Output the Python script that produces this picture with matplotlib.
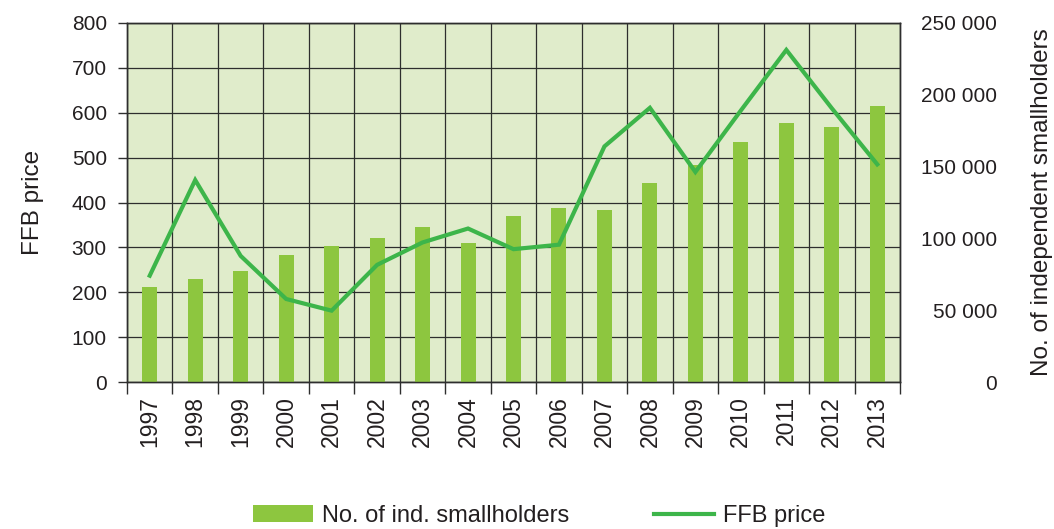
import matplotlib
matplotlib.use("Agg")
import matplotlib.pyplot as plt
from matplotlib.ticker import FuncFormatter
from matplotlib.patches import Patch
from matplotlib.lines import Line2D
import numpy as np

plt.rcParams['font.family'] = ['Liberation Sans', 'DejaVu Sans']

years = ['1997', '1998', '1999', '2000', '2001', '2002', '2003', '2004', '2005',
         '2006', '2007', '2008', '2009', '2010', '2011', '2012', '2013']
smallholders = [66200, 71800, 77400, 88600, 94800, 100400, 108100, 96900, 115800,
                121400, 120000, 138900, 151000, 166800, 180100, 177300, 192000]
ffb_price = [237, 450, 281, 185, 159, 261, 311, 342, 296,
             306, 525, 611, 468, 605, 740, 610, 485]

left_ticks = [0, 100, 200, 300, 400, 500, 600, 700, 800]
right_ticks = [0, 50000, 100000, 150000, 200000, 250000]

bg = '#E0ECCB'
bar_c = '#8DC63F'
line_c = '#3DB54A'
grid_c = '#2E2E2E'
txt_c = '#231F20'
fs = 15

fig = plt.figure(figsize=(10.54, 5.29), dpi=100)
ax = fig.add_axes([127/1054, 1-382/529, (900-127)/1054, (382-23)/529])
ax.set_facecolor(bg)
x = np.arange(len(years))

ax.set_xlim(-0.5, len(years) - 0.5)
ax.set_ylim(0, 800)
ax.set_yticks(left_ticks)
ax.set_xticks(x)
ax.set_xticklabels(years, rotation=90)
ax.set_xticks(np.arange(len(years) + 1) - 0.5, minor=True)
ax.tick_params(axis='x', which='major', length=0, pad=10, labelsize=16.5, labelcolor=txt_c)
ax.tick_params(axis='x', which='minor', length=8.6, width=1, color=grid_c, direction='out')
ax.tick_params(axis='y', length=6.5, width=1, color=grid_c, pad=8, labelsize=fs, labelcolor=txt_c)
ax.grid(True, axis='y', which='major', color=grid_c, lw=0.9)
ax.grid(True, axis='x', which='minor', color=grid_c, lw=0.9)
ax.grid(False, axis='x', which='major')
ax.set_axisbelow(True)
for s in ax.spines.values():
    s.set_color(grid_c)
    s.set_linewidth(1)
ax.set_ylabel('FFB price', fontsize=17.5, color=txt_c, labelpad=20)

# bars on right scale
axb = ax.twinx()
axb.bar(x, smallholders, width=0.33, color=bar_c, zorder=2)
axb.set_ylim(0, 250000)
axb.set_yticks(right_ticks)
axb.yaxis.set_major_formatter(FuncFormatter(lambda v, p: f"{int(v):,}".replace(',', ' ')))
axb.tick_params(axis='y', length=0, pad=70, labelsize=fs, labelcolor=txt_c)
for lab in axb.get_yticklabels():
    lab.set_horizontalalignment('right')
for s in axb.spines.values():
    s.set_color(grid_c)
    s.set_linewidth(1)
axb.set_ylabel('No. of independent smallholders', fontsize=17.5, color=txt_c, labelpad=24)

# line on left scale, drawn on top
axl = ax.twinx()
axl.plot(x, ffb_price, color=line_c, lw=3, solid_joinstyle='miter', zorder=3)
axl.set_ylim(0, 800)
axl.set_yticks([])
for s in axl.spines.values():
    s.set_visible(False)

handles = [Patch(facecolor=bar_c, edgecolor='none'), Line2D([0], [0], color=line_c, lw=3)]
fig.legend(handles, ['No. of ind. smallholders', 'FFB price'], loc='center',
           bbox_to_anchor=(539/1054, 1-516/529), ncol=2, frameon=False,
           fontsize=17, handlelength=2.55, handleheight=0.7, handletextpad=0.38,
           columnspacing=3.6, labelcolor=txt_c)

fig.savefig('out.png', dpi=100)
